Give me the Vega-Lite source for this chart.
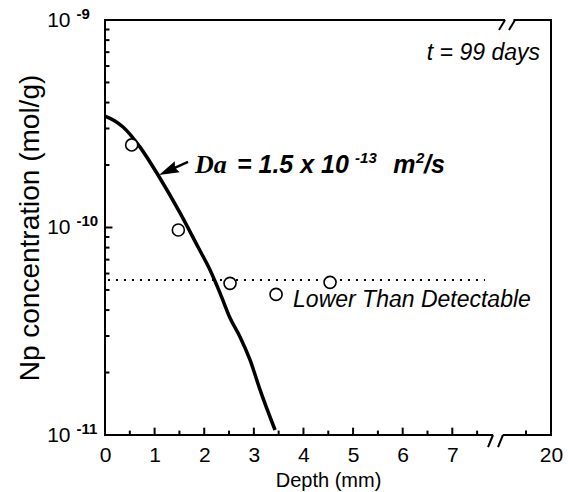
{
  "$schema": "https://vega.github.io/schema/vega-lite/v6.json",
  "width": 446,
  "height": 415,
  "autosize": "none",
  "padding": {"left": 105, "top": 20, "right": 17, "bottom": 57},
  "background": "white",
  "config": {
    "view": {"stroke": "black", "strokeWidth": 2},
    "font": "Liberation Sans"
  },
  "resolve": {"axis": {"x": "independent", "y": "independent"}},
  "datasets": {
    "curve": [
      {"depth": 0, "conc": 3.44e-10},
      {"depth": 0.2, "conc": 3.26e-10},
      {"depth": 0.363, "conc": 3.05e-10},
      {"depth": 0.706, "conc": 2.44e-10},
      {"depth": 1.069, "conc": 1.79e-10},
      {"depth": 1.512, "conc": 1.175e-10},
      {"depth": 1.875, "conc": 8.05e-11},
      {"depth": 2.117, "conc": 6.24e-11},
      {"depth": 2.319, "conc": 4.83e-11},
      {"depth": 2.52, "conc": 3.66e-11},
      {"depth": 2.722, "conc": 2.97e-11},
      {"depth": 2.923, "conc": 2.3e-11},
      {"depth": 3.125, "conc": 1.65e-11},
      {"depth": 3.427, "conc": 1.057e-11}
    ],
    "measured": [
      {"depth": 0.538, "conc": 2.5e-10},
      {"depth": 1.478, "conc": 9.73e-11},
      {"depth": 2.52, "conc": 5.38e-11},
      {"depth": 3.448, "conc": 4.76e-11},
      {"depth": 4.536, "conc": 5.44e-11}
    ],
    "detect": [
      {"depth": 0.06, "conc": 5.58e-11},
      {"depth": 7.66, "conc": 5.58e-11}
    ],
    "gaps": [
      {"depth": 8.45, "depth2": 14.35, "conc": 1e-11, "conc2": 1e-11},
      {"depth": 15.65, "depth2": 19.25, "conc": 1e-9, "conc2": 1e-9}
    ],
    "slashes": [
      {"depth": 7.72, "depth2": 8.4, "conc": 8.75e-12, "conc2": 1e-11},
      {"depth": 11.4, "depth2": 14.4, "conc": 8.75e-12, "conc2": 1e-11},
      {"depth": 12.0, "depth2": 15.6, "conc": 8.95e-10, "conc2": 1e-9},
      {"depth": 18.0, "depth2": 19.28, "conc": 8.95e-10, "conc2": 1e-9}
    ],
    "xmajor": [{"depth": 1}, {"depth": 2}, {"depth": 3}, {"depth": 4}, {"depth": 5}, {"depth": 6}, {"depth": 7}],
    "xminor": [{"depth": 0.5}, {"depth": 1.5}, {"depth": 2.5}, {"depth": 3.5}, {"depth": 4.5}, {"depth": 5.5}, {"depth": 6.5}, {"depth": 7.5}, {"depth": 19.5}],
    "ymajor": [{"conc": 1e-10}],
    "yminor": [
      {"conc": 2e-11}, {"conc": 3e-11}, {"conc": 4e-11}, {"conc": 5e-11}, {"conc": 6e-11}, {"conc": 7e-11}, {"conc": 8e-11}, {"conc": 9e-11},
      {"conc": 2e-10}, {"conc": 3e-10}, {"conc": 4e-10}, {"conc": 5e-10}, {"conc": 6e-10}, {"conc": 7e-10}, {"conc": 8e-10}, {"conc": 9e-10}
    ],
    "arrow": [
      {"depth": 1.673, "depth2": 1.272, "conc": 2.07e-10, "conc2": 1.875e-10}
    ],
    "arrowhead": [
      {"depth": 1.272, "conc": 1.875e-10}
    ],
    "tlabel": [{"depth": 19.78, "conc": 6.41e-10, "text": "t = 99 days"}],
    "lowlabel": [{"depth": 3.79, "conc": 4.14e-11, "text": "Lower Than Detectable"}],
    "dalabel": [{"depth": 1.815, "conc": 1.83e-10, "text": "Da"}],
    "eqbig": [
      {"depth": 2.66, "conc": 1.83e-10, "text": "= 1.5 x 10"},
      {"depth": 5.81, "conc": 1.83e-10, "text": "m"},
      {"depth": 6.43, "conc": 1.83e-10, "text": "/s"}
    ],
    "eqsmall": [
      {"depth": 5.04, "conc": 2.05e-10, "text": "-13"},
      {"depth": 6.27, "conc": 2.05e-10, "text": "2"}
    ]
  },
  "layer": [
    {
      "data": {"name": "gaps"},
      "mark": {"type": "rule", "color": "white", "strokeWidth": 5},
      "encoding": {
        "x": {"field": "depth", "type": "quantitative", "scale": {"domain": [0, 7.8, 19.2, 20], "range": [0, 387, 406, 446], "nice": false, "zero": false},
          "axis": {
            "orient": "bottom",
            "values": [0, 1, 2, 3, 4, 5, 6, 7, 20],
            "ticks": false,
            "domain": false,
            "labelFont": "Liberation Sans", "labelFontSize": 21, "labelColor": "black",
            "labelPadding": 9, "labelFlush": false, "labelOverlap": false, "labelBound": false,
            "grid": false,
            "title": "Depth (mm)", "titleFont": "Liberation Sans", "titleFontSize": 20, "titleFontWeight": "normal", "titleColor": "black", "titlePadding": 5
          }
        },
        "x2": {"field": "depth2"},
        "y": {"field": "conc", "type": "quantitative", "scale": {"type": "log", "domain": [1e-11, 1e-9], "nice": false},
          "axis": {
            "orient": "left",
            "values": [1e-11, 1e-10, 1e-9],
            "labelExpr": "'10'",
            "ticks": false,
            "domain": false,
            "labelFont": "Liberation Sans", "labelFontSize": 21, "labelColor": "black",
            "labelPadding": 35, "labelFlush": false, "labelOverlap": false, "labelBound": false,
            "grid": false,
            "title": "Np concentration (mol/g)", "titleFont": "Liberation Sans", "titleFontSize": 28, "titleFontWeight": "normal", "titleColor": "black", "titlePadding": 2
          }
        },
        "y2": {"field": "conc2"}
      }
    },
    {
      "data": {"name": "slashes"},
      "mark": {"type": "rule", "color": "black", "strokeWidth": 2},
      "encoding": {
        "x": {"field": "depth", "type": "quantitative", "axis": null},
        "x2": {"field": "depth2"},
        "y": {"field": "conc", "type": "quantitative",
          "axis": {
            "orient": "left",
            "values": [1e-11, 1e-10, 1e-9],
            "labelExpr": "round(log(datum.value)/LN10) == -9 ? '-9' : (round(log(datum.value)/LN10) == -10 ? '-10' : '-11')",
            "ticks": false, "domain": false, "grid": false, "title": null,
            "labelAlign": "left", "labelPadding": 29, "labelOffset": -7,
            "labelFont": "Liberation Sans", "labelFontSize": 15, "labelFontWeight": "bold", "labelColor": "black",
            "labelFlush": false, "labelOverlap": false, "labelBound": false
          }
        },
        "y2": {"field": "conc2"}
      }
    },
    {
      "data": {"name": "xmajor"},
      "mark": {"type": "rule", "color": "black", "strokeWidth": 2},
      "encoding": {
        "x": {"field": "depth", "type": "quantitative", "axis": null},
        "y": {"datum": 1e-11, "type": "quantitative", "axis": null},
        "y2": {"datum": 1.085e-11}
      }
    },
    {
      "data": {"name": "xminor"},
      "mark": {"type": "rule", "color": "black", "strokeWidth": 2},
      "encoding": {
        "x": {"field": "depth", "type": "quantitative", "axis": null},
        "y": {"datum": 1e-11, "type": "quantitative", "axis": null},
        "y2": {"datum": 1.05e-11}
      }
    },
    {
      "data": {"name": "ymajor"},
      "mark": {"type": "rule", "color": "black", "strokeWidth": 2},
      "encoding": {
        "y": {"field": "conc", "type": "quantitative", "axis": null},
        "x": {"datum": 0, "type": "quantitative", "axis": null},
        "x2": {"datum": 0.15}
      }
    },
    {
      "data": {"name": "yminor"},
      "mark": {"type": "rule", "color": "black", "strokeWidth": 2},
      "encoding": {
        "y": {"field": "conc", "type": "quantitative", "axis": null},
        "x": {"datum": 0, "type": "quantitative", "axis": null},
        "x2": {"datum": 0.09}
      }
    },
    {
      "data": {"name": "curve"},
      "mark": {"type": "line", "color": "black", "strokeWidth": 3.5, "interpolate": "monotone"},
      "encoding": {
        "x": {"field": "depth", "type": "quantitative", "axis": null},
        "y": {"field": "conc", "type": "quantitative", "axis": null}
      }
    },
    {
      "data": {"name": "detect"},
      "mark": {"type": "line", "color": "black", "strokeWidth": 2, "strokeDash": [2, 6]},
      "encoding": {
        "x": {"field": "depth", "type": "quantitative", "axis": null},
        "y": {"field": "conc", "type": "quantitative", "axis": null}
      }
    },
    {
      "data": {"name": "measured"},
      "mark": {"type": "point", "shape": "circle", "size": 145, "filled": true, "fill": "white", "stroke": "black", "strokeWidth": 1.6, "opacity": 1},
      "encoding": {
        "x": {"field": "depth", "type": "quantitative", "axis": null},
        "y": {"field": "conc", "type": "quantitative", "axis": null}
      }
    },
    {
      "data": {"name": "arrow"},
      "mark": {"type": "rule", "color": "black", "strokeWidth": 2.5},
      "encoding": {
        "x": {"field": "depth", "type": "quantitative", "axis": null},
        "x2": {"field": "depth2"},
        "y": {"field": "conc", "type": "quantitative", "axis": null},
        "y2": {"field": "conc2"}
      }
    },
    {
      "data": {"name": "arrowhead"},
      "mark": {"type": "point", "shape": "M -1 0 L 1 -0.6 L 0.75 0 L 1 0.6 Z", "size": 400, "angle": 336, "filled": true, "color": "black", "opacity": 1},
      "encoding": {
        "x": {"field": "depth", "type": "quantitative", "axis": null},
        "y": {"field": "conc", "type": "quantitative", "axis": null}
      }
    },
    {
      "data": {"name": "tlabel"},
      "mark": {"type": "text", "font": "Liberation Sans", "fontSize": 23, "fontStyle": "italic", "align": "right", "baseline": "alphabetic", "color": "black"},
      "encoding": {
        "x": {"field": "depth", "type": "quantitative", "axis": null},
        "y": {"field": "conc", "type": "quantitative", "axis": null},
        "text": {"field": "text"}
      }
    },
    {
      "data": {"name": "lowlabel"},
      "mark": {"type": "text", "font": "Liberation Sans", "fontSize": 23, "fontStyle": "italic", "align": "left", "baseline": "alphabetic", "color": "black"},
      "encoding": {
        "x": {"field": "depth", "type": "quantitative", "axis": null},
        "y": {"field": "conc", "type": "quantitative", "axis": null},
        "text": {"field": "text"}
      }
    },
    {
      "data": {"name": "dalabel"},
      "mark": {"type": "text", "font": "Liberation Serif", "fontSize": 26, "fontStyle": "italic", "fontWeight": "bold", "align": "left", "baseline": "alphabetic", "color": "black"},
      "encoding": {
        "x": {"field": "depth", "type": "quantitative", "axis": null},
        "y": {"field": "conc", "type": "quantitative", "axis": null},
        "text": {"field": "text"}
      }
    },
    {
      "data": {"name": "eqbig"},
      "mark": {"type": "text", "font": "Liberation Sans", "fontSize": 25, "fontStyle": "italic", "fontWeight": "bold", "align": "left", "baseline": "alphabetic", "color": "black"},
      "encoding": {
        "x": {"field": "depth", "type": "quantitative", "axis": null},
        "y": {"field": "conc", "type": "quantitative", "axis": null},
        "text": {"field": "text"}
      }
    },
    {
      "data": {"name": "eqsmall"},
      "mark": {"type": "text", "font": "Liberation Sans", "fontSize": 15, "fontStyle": "italic", "fontWeight": "bold", "align": "left", "baseline": "alphabetic", "color": "black"},
      "encoding": {
        "x": {"field": "depth", "type": "quantitative", "axis": null},
        "y": {"field": "conc", "type": "quantitative", "axis": null},
        "text": {"field": "text"}
      }
    }
  ]
}
